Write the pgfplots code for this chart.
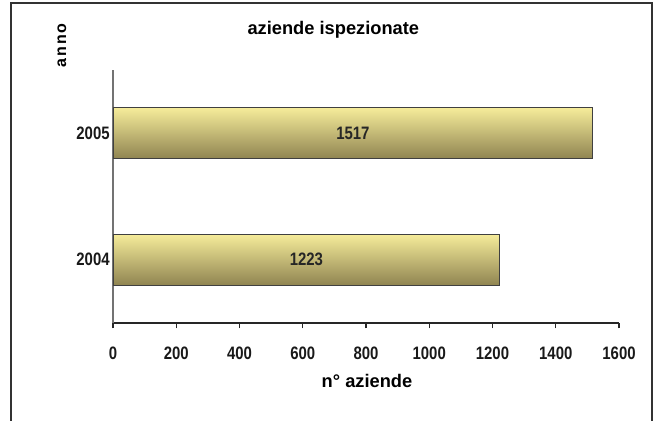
\documentclass[border=0pt]{standalone}
\usepackage{fontspec}
\setmainfont{Liberation Sans}
\newfontfamily\condfont{Liberation Sans Bold}[FakeStretch=0.83]
\newfontfamily\boldfont{Liberation Sans Bold}
\usepackage{pgfplots}
\pgfplotsset{compat=1.18}
\definecolor{bartop}{RGB}{246,236,154}
\definecolor{barmid}{RGB}{238,228,146}
\definecolor{barbot}{RGB}{143,132,81}
\definecolor{frame}{RGB}{50,50,50}
\begin{document}
\begin{tikzpicture}
\path[use as bounding box] (0,0) rectangle (492.75pt,-315.75pt);
\clip (0,0) rectangle (492.75pt,-315.75pt);
\draw[frame, line width=1.3pt] (8.25pt,-2.25pt) rectangle (489pt,-330pt);
\node[font=\boldfont\fontsize{13.7}{15}\selectfont] at (250pt,-22.5pt) {aziende ispezionate};
\node[font=\boldfont\fontsize{12}{13}\selectfont\addfontfeature{LetterSpace=12}, rotate=90] at (46.5pt,-34pt) {anno};
\node[font=\boldfont\fontsize{13.7}{15}\selectfont] at (275.25pt,-286pt) {n° aziende};
\begin{axis}[
  at={(84.75pt,-242.25pt)}, anchor=south west,
  scale only axis, width=379.5pt, height=189.75pt,
  xmin=0, xmax=1600, ymin=-0.5, ymax=1.5,
  xtick={0,200,400,600,800,1000,1200,1400,1600},
  ytick={0,1}, yticklabels={2004,2005},
  axis x line*=bottom, axis y line*=left,
  x axis line style={-, black!85, line width=0.8pt},
  y axis line style={-, black!55, line width=0.8pt},
  xtick align=outside, major tick length=4pt,
  xtick style={black!85, line width=0.8pt},
  ytick style={draw=none},
  /pgf/number format/assume math mode=true,
  /pgf/number format/1000 sep={},
  ticklabel style={font=\condfont\fontsize{13.5}{15}\selectfont, text=black!90},
  xticklabel style={yshift=-10.5pt},
  yticklabel style={xshift=1pt},
  clip=false,
]
\addplot[xbar, bar width=38.25pt, draw=black!75, line width=0.6pt,
  top color=bartop, middle color=barmid, bottom color=barbot]
  coordinates {(1223,0)};
\addplot[xbar, bar width=38.25pt, draw=black!75, line width=0.6pt,
  top color=bartop, middle color=barmid, bottom color=barbot]
  coordinates {(1517,1)};
\addplot[draw=none, mark=none, nodes near coords, point meta=explicit symbolic,
  every node near coord/.style={anchor=center, font=\condfont\fontsize{13.5}{15}\selectfont, text=black!85}]
  coordinates {(611.5,0) [1223] (758.5,1) [1517]};
\end{axis}
\end{tikzpicture}
\end{document}
